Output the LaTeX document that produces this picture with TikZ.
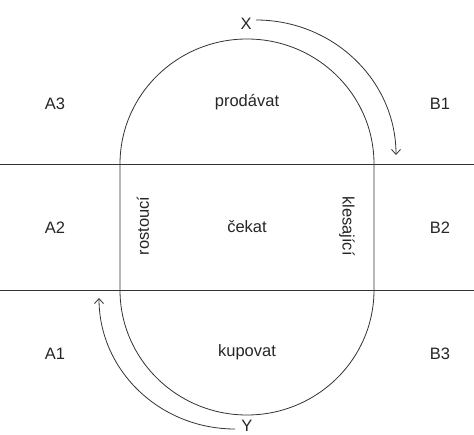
\documentclass[tikz,border=0pt]{standalone}
\usepackage{fontspec}
\setmainfont{Liberation Sans}
\usetikzlibrary{arrows.meta}
\begin{document}
\begin{tikzpicture}[x=1pt,y=-1pt,
  lbl/.style={font=\fontsize{16.5}{20}\selectfont,inner sep=0pt,text=black!85},
  ln/.style={line width=0.8pt,draw=black!80},
  arr/.style={ln,-{Straight Barb[length=5pt,width=9pt]}}]
\useasboundingbox (0,0) rectangle (474,435);
\fill[white] (0,0) rectangle (474,435);
% horizontal bands
\coordinate (L1) at (0,164); \coordinate (R1) at (474,164);
\coordinate (L2) at (0,290); \coordinate (R2) at (474,290);
\draw[ln] (L1) -- (R1);
\draw[ln] (L2) -- (R2);
% stadium
\draw[ln] (120,164) -- (120,290)
  .. controls (120,359) and (176.9,415) .. (247,415)
  .. controls (317.1,415) and (374,359) .. (374,290)
  -- (374,164)
  .. controls (374,95) and (317.1,39) .. (247,39)
  .. controls (176.9,39) and (120,95) .. (120,164) -- cycle;
% labels
\node[lbl] (A3) at (55,104) {A3};
\node[lbl] (A2) at (55,228) {A2};
\node[lbl] (A1) at (55,354) {A1};
\node[lbl] (B1) at (440,104) {B1};
\node[lbl] (B2) at (440,228) {B2};
\node[lbl] (B3) at (440,354) {B3};
\node[lbl] (prod) at (247,102) {prodávat};
\node[lbl] (cek) at (247,227) {čekat};
\node[lbl] (kup) at (247,352) {kupovat};
\node[lbl,rotate=90] (rost) at (143,226) {rostoucí};
\node[lbl,rotate=-90] (kles) at (347,226) {klesající};
\node[lbl] (X) at (246,24) {X};
\node[lbl] (Y) at (247,426) {Y};
% arrows
\coordinate (Xs) at (256,20);
\coordinate (Xe) at (396,155);
\coordinate (Ys) at (235,429);
\coordinate (Ye) at (99,298);
\draw[arr] (Xs) .. controls (333,20) and (396,80.4) .. (Xe);
\draw[arr] (Ys) .. controls (159.9,429) and (99,370.5) .. (Ye);
\end{tikzpicture}
\end{document}
